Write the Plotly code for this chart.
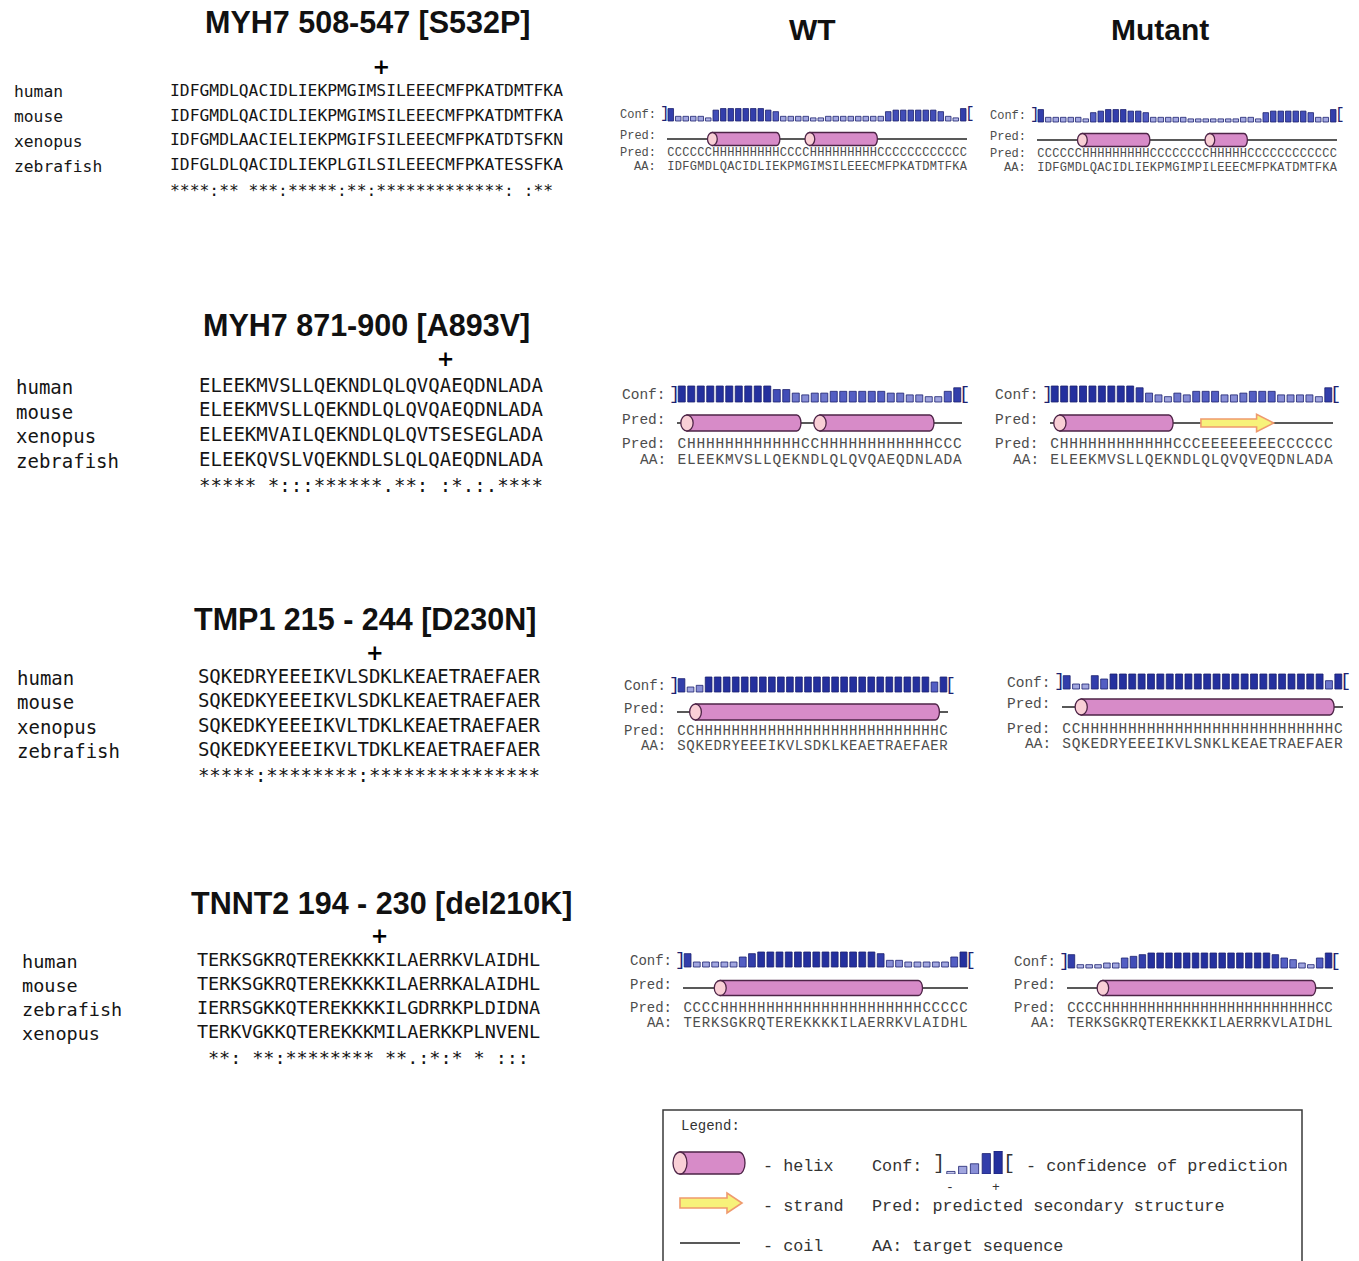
import plotly.graph_objects as go

W, H = 1359, 1261

# ====================== DATA ======================
block_titles = ["MYH7 508-547 [S532P]", "MYH7 871-900 [A893V]",
                "TMP1 215 - 244 [D230N]", "TNNT2 194 - 230 [del210K]"]
column_titles = ["WT", "Mutant"]

species_myh7_508 = ["human", "mouse", "xenopus", "zebrafish"]
species_myh7_871 = ["human", "mouse", "xenopus", "zebrafish"]
species_tpm1 = ["human", "mouse", "xenopus", "zebrafish"]
species_tnnt2 = ["human", "mouse", "zebrafish", "xenopus"]

aln_myh7_508 = ["IDFGMDLQACIDLIEKPMGIMSILEEECMFPKATDMTFKA",
                "IDFGMDLQACIDLIEKPMGIMSILEEECMFPKATDMTFKA",
                "IDFGMDLAACIELIEKPMGIFSILEEECMFPKATDTSFKN",
                "IDFGLDLQACIDLIEKPLGILSILEEECMFPKATESSFKA"]
cons_myh7_508 = "****:** ***:*****:**:*************: :** "

aln_myh7_871 = ["ELEEKMVSLLQEKNDLQLQVQAEQDNLADA",
                "ELEEKMVSLLQEKNDLQLQVQAEQDNLADA",
                "ELEEKMVAILQEKNDLQLQVTSESEGLADA",
                "ELEEKQVSLVQEKNDLSLQLQAEQDNLADA"]
cons_myh7_871 = "***** *:::******.**: :*.:.****"

aln_tpm1 = ["SQKEDRYEEEIKVLSDKLKEAETRAEFAER",
            "SQKEDKYEEEIKVLSDKLKEAETRAEFAER",
            "SQKEDKYEEEIKVLTDKLKEAETRAEFAER",
            "SQKEDKYEEEIKVLTDKLKEAETRAEFAER"]
cons_tpm1 = "*****:********:***************"

aln_tnnt2 = ["TERKSGKRQTEREKKKKILAERRKVLAIDHL",
             "TERKSGKRQTEREKKKKILAERRKALAIDHL",
             "IERRSGKKQTEREKKKKILGDRRKPLDIDNA",
             "TERKVGKKQTEREKKKMILAERKKPLNVENL"]
cons_tnnt2 = " **: **:******** **.:*:* * ::: "

mutation_columns = [21, 21, 15, 16]

# PSIPRED panels: WT and mutant
wt_aa = ["IDFGMDLQACIDLIEKPMGIMSILEEECMFPKATDMTFKA",
         "ELEEKMVSLLQEKNDLQLQVQAEQDNLADA",
         "SQKEDRYEEEIKVLSDKLKEAETRAEFAER",
         "TERKSGKRQTEREKKKKILAERRKVLAIDHL"]
mut_aa = ["IDFGMDLQACIDLIEKPMGIMPILEEECMFPKATDMTFKA",
          "ELEEKMVSLLQEKNDLQLQVQVEQDNLADA",
          "SQKEDRYEEEIKVLSNKLKEAETRAEFAER",
          "TERKSGKRQTEREKKKILAERRKVLAIDHL"]
wt_pred = ["CCCCCC" "HHHHHHHHH" "CCCC" "HHHHHHHHH" "CCCCCCCCCCCC",
           "C" "HHHHHHHHHHHH" "CC" "HHHHHHHHHHHH" "CCC",
           "CC" "HHHHHHHHHHHHHHHHHHHHHHHHHHH" "C",
           "CCCC" "HHHHHHHHHHHHHHHHHHHHHH" "CCCCC"]
mut_pred = ["CCCCCC" "HHHHHHHHH" "CCCCCCCC" "HHHHH" "CCCCCCCCCCCC",
            "C" "HHHHHHHHHHHH" "CCC" "EEEEEEEE" "CCCCCC",
            "CC" "HHHHHHHHHHHHHHHHHHHHHHHHHHH" "C",
            "CCCC" "HHHHHHHHHHHHHHHHHHHHHHHH" "CC"]
wt_conf = [
    [8, 3, 3, 3, 3, 2, 7, 8, 8, 8, 8, 8, 8, 7, 6, 3, 3, 3, 3, 2,
     2, 3, 3, 3, 3, 3, 3, 3, 3, 6, 7, 7, 7, 7, 7, 7, 6, 3, 2, 8],
    [9, 9, 9, 9, 9, 9, 9, 9, 9, 9, 7, 7, 5, 4, 5, 5, 6, 6, 6, 6,
     6, 6, 5, 5, 4, 4, 3, 3, 6, 8],
    [8, 3, 4, 9, 9, 9, 9, 9, 9, 9, 9, 9, 9, 9, 9, 9, 9, 9, 9, 9,
     9, 9, 9, 9, 9, 9, 9, 9, 6, 9],
    [8, 3, 3, 3, 3, 3, 6, 8, 9, 9, 9, 9, 9, 9, 9, 9, 9, 9, 9, 9,
     9, 8, 4, 4, 3, 3, 3, 3, 3, 6, 9],
]
mut_conf = [
    [8, 3, 3, 3, 3, 3, 2, 6, 7, 8, 8, 8, 7, 7, 6, 3, 3, 3, 3, 3,
     2, 2, 2, 2, 2, 2, 2, 3, 3, 2, 6, 7, 7, 7, 7, 7, 6, 3, 3, 8],
    [9, 9, 9, 9, 9, 9, 9, 9, 9, 8, 5, 4, 3, 5, 4, 6, 6, 6, 4, 4,
     5, 6, 6, 6, 4, 4, 4, 4, 3, 8],
    [8, 3, 3, 8, 6, 9, 9, 9, 9, 9, 9, 9, 9, 9, 9, 9, 9, 9, 9, 9,
     9, 9, 9, 9, 9, 9, 9, 9, 5, 9],
    [8, 2, 2, 2, 3, 3, 6, 7, 8, 9, 9, 9, 9, 9, 9, 9, 9, 9, 9, 9,
     9, 9, 9, 8, 6, 5, 3, 2, 6, 9],
]

legend_conf = [1, 3, 4, 8, 9]
legend_rows = [("- helix", "Conf:", "- confidence of prediction"),
               ("- strand", "Pred: predicted secondary structure", ""),
               ("- coil", "AA: target sequence", "")]

# ====================== LAYOUT (positions / styles) ======================
ALN = [
    dict(xs=170, xe=563, y0=92, st=24.7, plus=69, cons=192, lab=12, fs=16.3),
    dict(xs=199, xe=543, y0=387, st=24.7, plus=361, cons=487, lab=14, fs=19),
    dict(xs=198, xe=540, y0=678, st=24.4, plus=655, cons=777, lab=15, fs=19),
    dict(xs=197, xe=540, y0=961, st=24.0, plus=938, cons=1059, lab=20, fs=18.5),
]
TITLE_POS = [(368, 22), (366, 326), (365, 619), (381, 903)]
COLT_POS = [(813, 29), (1160, 29)]
PANELS = [
    dict(x0=667, x1=967, base=121, top=107, line=139, pred=153, aa=167, cyl=13, fs=12),
    dict(x0=1037, x1=1337, base=122, top=108, line=140, pred=154, aa=168, cyl=13, fs=12),
    dict(x0=677, x1=962, base=402, top=386, line=423, pred=444, aa=460, cyl=16, fs=14.5),
    dict(x0=1050, x1=1333, base=402, top=386, line=423, pred=444, aa=460, cyl=16, fs=14.5),
    dict(x0=677, x1=948, base=692, top=677, line=712, pred=731, aa=746, cyl=16, fs=14),
    dict(x0=1062, x1=1343, base=689, top=674, line=707, pred=729, aa=744, cyl=16, fs=14.5),
    dict(x0=683, x1=968, base=967, top=952, line=988, pred=1008, aa=1023, cyl=15, fs=14),
    dict(x0=1067, x1=1333, base=968, top=953, line=988, pred=1008, aa=1023, cyl=15, fs=14),
]

SEQ_FONT = "DejaVu Sans Mono, Liberation Mono, monospace"
PSI_FONT = "Liberation Mono, Courier New, DejaVu Sans Mono, monospace"
TITLE_FONT = "Liberation Sans, Arial, Helvetica, sans-serif"
HELIX_FILL, HELIX_LINE, CAP_FILL = "#d78bc8", "#4e2447", "#f9cfd6"
STRAND_FILL, STRAND_LINE = "#f7f27a", "#ef9a6e"
BAR_SCALE = [[0, "#d6d8f3"], [0.35, "#9ea3de"], [0.7, "#4b57c0"], [1, "#24309e"]]
TXT_GRAY = "#4d4d4d"
LEG_SIZE = 16.8

# ====================== BUILD ======================
fig = go.Figure()
axes = {}
shapes = []
annotations = []


def ref(k):
    return ("x" if k == 1 else f"x{k}"), ("y" if k == 1 else f"y{k}")


def add_axis(k, xdom, xr, ydom, yr):
    xn = "xaxis" if k == 1 else f"xaxis{k}"
    yn = "yaxis" if k == 1 else f"yaxis{k}"
    xa, ya = ref(k)
    axes[xn] = dict(domain=[max(0, xdom[0]), min(1, xdom[1])], range=xr, visible=False,
                    fixedrange=True, anchor=ya)
    axes[yn] = dict(domain=[max(0, ydom[0]), min(1, ydom[1])], range=yr, visible=False,
                    fixedrange=True, anchor=xa)


def text_trace(k, xs, ys, chars, size, color, family, weight="normal"):
    xa, ya = ref(k)
    fig.add_trace(go.Scatter(x=xs, y=ys, text=chars, mode="text", xaxis=xa, yaxis=ya,
                             textposition="middle center", hoverinfo="skip", showlegend=False,
                             cliponaxis=False,
                             textfont=dict(size=size, color=color, family=family, weight=weight)))


def paper_text(t, xpx, ypx, size, color, family, anchor="left"):
    annotations.append(dict(text=t, x=xpx / W, y=1 - ypx / H, xref="paper", yref="paper",
                            showarrow=False, xanchor=anchor, yanchor="middle",
                            font=dict(family=family, size=size, color=color)))


def runs(s, ch):
    out, i = [], 0
    while i < len(s):
        if s[i] == ch:
            j = i
            while j + 1 < len(s) and s[j + 1] == ch:
                j += 1
            out.append((i, j))
            i = j + 1
        else:
            i += 1
    return out


def cylinder(xref, yref, xs, xe, yc, ry, rx, rr):
    c = 0.5523
    top, bot = yc + ry, yc - ry
    path = (f"M{xs},{top} L{xe},{top} C{xe + c * rr},{top} {xe + rr},{yc + c * ry} {xe + rr},{yc} "
            f"C{xe + rr},{yc - c * ry} {xe + c * rr},{bot} {xe},{bot} L{xs},{bot} Z")
    shapes.append(dict(type="path", path=path, xref=xref, yref=yref, fillcolor=HELIX_FILL,
                       line=dict(color=HELIX_LINE, width=1.3), layer="above"))
    shapes.append(dict(type="circle", x0=xs - rx, x1=xs + rx, y0=bot, y1=top, xref=xref, yref=yref,
                       fillcolor=CAP_FILL, line=dict(color=HELIX_LINE, width=1.3), layer="above"))


def arrow(xref, yref, xs, xt, yc, bh, hh, hl):
    xh = xt - hl
    path = (f"M{xs},{yc + bh} L{xh},{yc + bh} L{xh},{yc + hh} L{xt},{yc} L{xh},{yc - hh} "
            f"L{xh},{yc - bh} L{xs},{yc - bh} Z")
    shapes.append(dict(type="path", path=path, xref=xref, yref=yref, fillcolor=STRAND_FILL,
                       line=dict(color=STRAND_LINE, width=1.6), layer="above"))


# ---- titles ----
for t, (cx, cy) in zip(block_titles, TITLE_POS):
    paper_text(f"<b>{t}</b>", cx, cy, 30.5, "#111", TITLE_FONT, "center")
for t, (cx, cy) in zip(column_titles, COLT_POS):
    paper_text(f"<b>{t}</b>", cx, cy, 30, "#111", TITLE_FONT, "center")

# ---- alignments ----
alignments = [aln_myh7_508, aln_myh7_871, aln_tpm1, aln_tnnt2]
conservation = [cons_myh7_508, cons_myh7_871, cons_tpm1, cons_tnnt2]
species = [species_myh7_508, species_myh7_871, species_tpm1, species_tnnt2]

k = 1
for b, (seqs, cons, sp, mcol) in enumerate(zip(alignments, conservation, species, mutation_columns)):
    g = ALN[b]
    n = len(seqs[0])
    top_px, bot_px = g["y0"] - 1.8 * g["st"], g["y0"] + 5 * g["st"]
    add_axis(k, [g["xs"] / W, g["xe"] / W], [-0.5, n - 0.5],
             [1 - bot_px / H, 1 - top_px / H],
             [(bot_px - g["y0"]) / g["st"], (top_px - g["y0"]) / g["st"]])
    for r, s in enumerate(seqs):
        text_trace(k, list(range(len(s))), [r] * len(s), list(s), g["fs"], "#151515", SEQ_FONT)
        paper_text(sp[r], g["lab"], g["y0"] + r * g["st"], g["fs"], "#151515", SEQ_FONT)
    crow = (g["cons"] - g["y0"]) / g["st"]
    text_trace(k, list(range(len(cons))), [crow] * len(cons), list(cons), g["fs"], "#151515", SEQ_FONT)
    prow = (g["plus"] - g["y0"]) / g["st"]
    text_trace(k, [mcol], [prow], ["+"], 21, "#000", "DejaVu Sans, sans-serif", "bold")
    k += 1

# ---- PSIPRED panels ----
panel_data = []
for i in range(4):
    panel_data.append((wt_aa[i], wt_pred[i], wt_conf[i]))
    panel_data.append((mut_aa[i], mut_pred[i], mut_conf[i]))

for p, (aa, pred, conf) in enumerate(panel_data):
    g = PANELS[p]
    n = len(conf)
    pitch = (g["x1"] - g["x0"]) / n
    u = (g["base"] - g["top"]) / 9.0
    ytop_px, ybot_px = g["top"] - 10, g["aa"] + 12
    add_axis(k, [g["x0"] / W, g["x1"] / W], [-0.5, n - 0.5],
             [1 - ybot_px / H, 1 - ytop_px / H],
             [-(ybot_px - g["base"]) / u, (g["base"] - ytop_px) / u])
    xa, ya = ref(k)

    def ty(py):
        return (g["base"] - py) / u

    fig.add_trace(go.Bar(x=list(range(n)), y=conf, width=0.74, xaxis=xa, yaxis=ya,
                         marker=dict(color=conf, colorscale=BAR_SCALE, cmin=0, cmax=9,
                                     line=dict(color="#1d2270", width=0.8)),
                         hoverinfo="skip", showlegend=False))
    ymid = (g["base"] + g["top"]) / 2
    paper_text("]", g["x0"] - 2.5, ymid, g["fs"] + 4, "#1d2270", PSI_FONT, "center")
    paper_text("[", g["x1"] + 2.5, ymid, g["fs"] + 4, "#1d2270", PSI_FONT, "center")
    for lab, py in (("Conf:", ymid + 1), ("Pred:", g["line"] - 3),
                    ("Pred:", g["pred"]), ("AA:", g["aa"])):
        paper_text(lab, g["x0"] - 9, py, g["fs"], TXT_GRAY, PSI_FONT, "right")
    yl = ty(g["line"])
    shapes.append(dict(type="line", x0=-0.5, x1=n - 0.5, y0=yl, y1=yl, xref=xa, yref=ya,
                       line=dict(color="#222", width=1.3), layer="above"))
    ry = (g["cyl"] / 2) / u
    for s, e in runs(pred, "H"):
        cylinder(xa, ya, s - 0.45, e + 0.1, yl, ry, 0.65, 0.45)
    for s, e in runs(pred, "E"):
        arrow(xa, ya, s - 0.5, e + 0.2, yl, 0.5 * ry, 1.1 * ry, 1.8)
    text_trace(k, list(range(len(pred))), [ty(g["pred"])] * len(pred), list(pred), g["fs"], TXT_GRAY, PSI_FONT)
    text_trace(k, list(range(len(aa))), [ty(g["aa"])] * len(aa), list(aa), g["fs"], TXT_GRAY, PSI_FONT)
    k += 1

# ---- legend ----
lb_base, lb_top = 1174, 1151
add_axis(k, [945 / W, 1004 / W], [-0.5, len(legend_conf) - 0.5],
         [1 - lb_base / H, 1 - lb_top / H], [0, 9])
xa, ya = ref(k)
fig.add_trace(go.Bar(x=list(range(len(legend_conf))), y=legend_conf, width=0.7, xaxis=xa, yaxis=ya,
                     marker=dict(color=legend_conf, colorscale=BAR_SCALE, cmin=0, cmax=9,
                                 line=dict(color="#1d2270", width=0.8)),
                     hoverinfo="skip", showlegend=False))
k += 1
add_axis(k, [0, 1], [0, W], [0, 1], [H, 0])
xo, yo = ref(k)
shapes.append(dict(type="rect", x0=663, x1=1302, y0=1110, y1=1275, xref=xo, yref=yo,
                   line=dict(color="#3a3a3a", width=1.5), fillcolor="rgba(0,0,0,0)", layer="below"))
cylinder(xo, yo, 680, 739, 1163, 11, 7, 6)
arrow(xo, yo, 680, 742, 1203, 5, 10, 15)
shapes.append(dict(type="line", x0=680, x1=740, y0=1243, y1=1243, xref=xo, yref=yo,
                   line=dict(color="#222", width=1.5)))

paper_text("Legend:", 679, 1126, 14, "#333", PSI_FONT)
row_y = [1166, 1206, 1246]
for (a, bt, ct), y in zip(legend_rows, row_y):
    paper_text(a, 761, y, LEG_SIZE, "#333", PSI_FONT)
    paper_text(bt, 870, y, LEG_SIZE, "#333", PSI_FONT)
    if ct:
        paper_text(ct, 1024, y, LEG_SIZE, "#333", PSI_FONT)
paper_text("]", 939, 1163, 20, "#333", PSI_FONT, "center")
paper_text("[", 1009, 1163, 20, "#333", PSI_FONT, "center")
paper_text("-", 950, 1187, 13, "#333", PSI_FONT, "center")
paper_text("+", 996, 1187, 13, "#333", PSI_FONT, "center")

fig.update_layout(width=W, height=H, margin=dict(l=0, r=0, t=0, b=0, pad=0),
                  paper_bgcolor="white", plot_bgcolor="rgba(0,0,0,0)",
                  shapes=shapes, annotations=annotations, showlegend=False,
                  bargap=0, **axes)

fig.write_html("out.html", config={"displayModeBar": False, "staticPlot": True},
               post_script="document.body.style.margin='0';document.body.style.overflow='hidden';")
